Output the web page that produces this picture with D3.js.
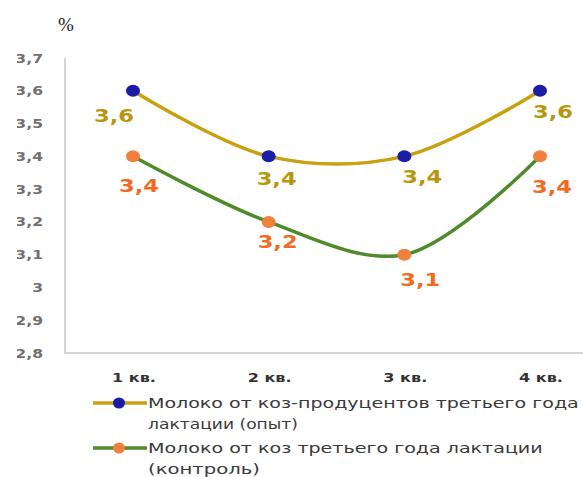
<!DOCTYPE html>
<html><head><meta charset="utf-8">
<script src="https://cdn.jsdelivr.net/npm/d3@7"></script>
<style>body{margin:0;background:#fff}svg{display:block}</style>
</head><body>
<svg id="chart" width="583" height="477"></svg>
<script>
const quarters = ["1 кв.", "2 кв.", "3 кв.", "4 кв."];
const experimentValues = [3.6, 3.4, 3.4, 3.6];
const controlValues = [3.4, 3.2, 3.1, 3.4];
const yTicks = [2.8, 2.9, 3.0, 3.1, 3.2, 3.3, 3.4, 3.5, 3.6, 3.7];
const seriesNames = [
  ["Молоко от коз-продуцентов третьего года", "лактации (опыт)"],
  ["Молоко от коз третьего года лактации", "(контроль)"]
];

const svg = d3.select("#chart");
const fmt = v => String(v).replace(".", ",");
const boldFont = "DejaVu Sans, Verdana, sans-serif";

// Places a text so it spans `width` px, widening the glyphs horizontally.
// anchor: "start" | "middle" | "end"
function widen(text, px, py, width, anchor) {
  const w = text.node().getComputedTextLength();
  const sx = width / w;
  const left = anchor === "middle" ? px - width / 2 : anchor === "end" ? px - width : px;
  text.attr("x", 0).attr("y", 0).attr("text-anchor", "start")
    .attr("transform", `translate(${left},${py}) scale(${sx},1)`);
}

const x = d3.scalePoint().domain(quarters).range([133, 540]);
const y = d3.scaleLinear().domain([2.8, 3.7]).range([353, 58]);

// axes frame
svg.append("line").attr("x1", 65).attr("x2", 65).attr("y1", 58).attr("y2", 354)
  .attr("stroke", "#d4d4d4").attr("stroke-width", 2);
svg.append("line").attr("x1", 64).attr("x2", 583).attr("y1", 353).attr("y2", 353)
  .attr("stroke", "#d4d4d4").attr("stroke-width", 2);

// y tick labels
svg.append("g").selectAll("text").data(yTicks).join("text")
  .attr("dy", "0.35em")
  .attr("font-family", boldFont)
  .attr("font-size", 13).attr("font-weight", "bold").attr("fill", "#707070")
  .text(d => fmt(d))
  .each(function (d) {
    const t = d3.select(this);
    const w = t.node().getComputedTextLength();
    widen(t, 43, y(d), w * 1.2, "end");
  });
// left margin trims the tick labels
svg.append("rect").attr("x", 0).attr("y", 0).attr("width", 17).attr("height", 380).attr("fill", "#fff");

// unit label
svg.append("text").attr("x", 58).attr("y", 31)
  .attr("font-family", "Liberation Serif, Times New Roman, serif")
  .attr("font-size", 19).attr("fill", "#222").text("%");

// x labels
svg.append("g").selectAll("text").data(quarters).join("text")
  .attr("dy", "0.35em")
  .attr("font-family", boldFont)
  .attr("font-size", 12.5).attr("font-weight", "bold").attr("fill", "#333")
  .text(d => d)
  .each(function (d) { widen(d3.select(this), x(d) + 1, 378, 44, "middle"); });

const series = [
  {values: experimentValues, line: "#c9a010", dot: "#1c1ca6", label: "#b8960e",
   offsets: [[-19, 25], [8, 23], [18, 21], [13, 21]]},
  {values: controlValues, line: "#4f8a2c", dot: "#f0803c", label: "#f26a22",
   offsets: [[6, 30], [9, 20], [16, 25], [12, 31]]}
];

const lineGen = d3.line().x((d, i) => x(quarters[i])).y(d => y(d))
  .curve(d3.curveCatmullRom.alpha(0.5));

series.forEach(s => {
  svg.append("path").attr("d", lineGen(s.values)).attr("fill", "none")
    .attr("stroke", s.line).attr("stroke-width", 3.5);
  svg.append("g").selectAll("ellipse").data(s.values).join("ellipse")
    .attr("cx", (d, i) => x(quarters[i])).attr("cy", d => y(d))
    .attr("rx", 7).attr("ry", 6).attr("fill", s.dot);
  svg.append("g").selectAll("text").data(s.values).join("text")
    .attr("dy", "0.35em")
    .attr("font-family", boldFont)
    .attr("font-size", 17).attr("font-weight", "bold").attr("fill", s.label)
    .text(d => fmt(d))
    .each(function (d, i) {
      widen(d3.select(this), x(quarters[i]) + s.offsets[i][0], y(d) + s.offsets[i][1], 40, "middle");
    });
});

// legend
const legendY = [403, 448];
const legendWidths = [[431, 150], [395, 112]];
series.forEach((s, i) => {
  const g = svg.append("g").attr("transform", `translate(0,${legendY[i]})`);
  g.append("line").attr("x1", 93).attr("x2", 147).attr("y1", 0).attr("y2", 0)
    .attr("stroke", s.line).attr("stroke-width", 3.5);
  g.append("ellipse").attr("cx", 119).attr("cy", 0).attr("rx", 6).attr("ry", 5.5).attr("fill", s.dot);
  seriesNames[i].forEach((t, j) => {
    const txt = g.append("text").attr("dy", "0.35em")
      .attr("font-family", "DejaVu Sans, sans-serif")
      .attr("font-size", 14).attr("fill", "#3a3a3a").text(t);
    widen(txt, 148, j * 21.5, legendWidths[i][j], "start");
  });
});
</script>
</body></html>
